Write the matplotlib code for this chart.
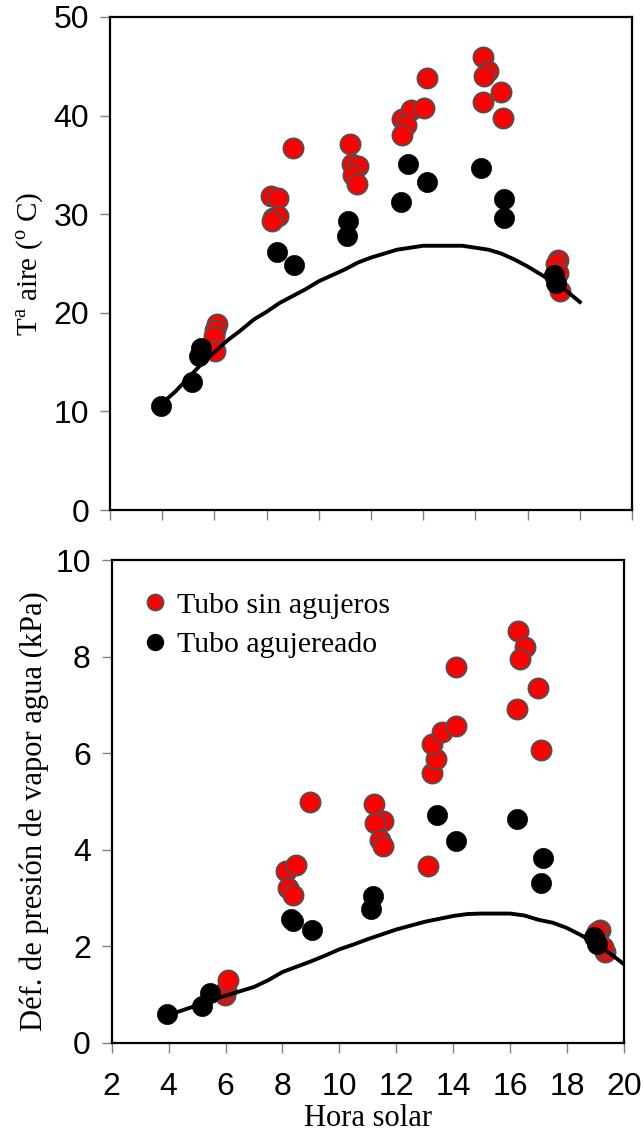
import matplotlib
matplotlib.use("Agg")
import matplotlib.pyplot as plt
from matplotlib.lines import Line2D

plt.rcParams['mathtext.fontset'] = 'custom'
plt.rcParams['mathtext.rm'] = 'Liberation Serif'

# --- Temperatura del aire ---
hora_T_sin = [6.09, 6.02, 6.00, 6.02, 8.16, 8.45, 8.26, 8.45, 8.20, 9.00,
              11.20, 11.26, 11.50, 11.30, 11.45, 13.18, 13.52, 13.34, 13.20, 14.03, 14.13,
              16.30, 16.49, 16.34, 16.97, 16.30, 17.05, 19.18, 19.10, 19.15, 19.24]
T_sin = [18.9, 18.3, 17.6, 16.1, 31.8, 31.6, 29.6, 29.8, 29.3, 36.7,
         37.1, 35.1, 34.9, 34.0, 33.1, 39.7, 40.6, 39.0, 38.0, 40.8, 43.8,
         45.9, 44.5, 44.0, 42.4, 41.4, 39.8, 25.4, 24.9, 24.0, 22.2]
hora_T_agu = [3.94, 5.15, 5.41, 5.47, 8.39, 9.06, 11.13, 11.07, 13.14, 13.43,
              14.13, 16.20, 17.10, 17.10, 19.00, 19.10]
T_agu = [10.5, 13.0, 15.6, 16.4, 26.2, 24.8, 29.3, 27.8, 31.2, 35.1,
         33.3, 34.7, 31.5, 29.6, 23.8, 23.0]

hora_ext = [3.9, 4.5, 5.0, 5.5, 6.0, 6.5, 7.0, 7.5, 8.0, 8.5, 9.0, 9.5, 10.0, 10.5,
            11.0, 11.5, 12.0, 12.5, 13.0, 13.5, 14.0, 14.5, 15.0, 15.5, 16.0, 16.5,
            17.0, 17.5, 18.0, 18.5, 19.0, 19.5, 20.0]
T_ext = [10.6, 12.0, 13.4, 14.8, 16.0, 17.2, 18.2, 19.3, 20.1, 21.0, 21.7, 22.4, 23.2, 23.8,
         24.4, 25.1, 25.6, 26.0, 26.4, 26.6, 26.8, 26.8, 26.8, 26.8, 26.6, 26.4,
         26.0, 25.4, 24.7, 23.9, 23.1, 22.2, 21.1]

# --- Deficit de presion de vapor ---
hora_D_sin = [5.98, 6.02, 6.08, 8.12, 8.48, 8.21, 8.36, 8.97, 11.22, 11.52, 11.25, 11.43, 11.52,
              13.12, 13.27, 13.40, 13.27, 13.60, 14.10, 14.10, 16.29, 16.53, 16.35, 16.99,
              16.23, 17.08, 19.17, 19.05, 19.34, 19.26]
D_sin = [0.99, 1.09, 1.31, 3.57, 3.69, 3.21, 3.07, 4.98, 4.94, 4.60, 4.56, 4.21, 4.07,
         3.66, 5.60, 5.89, 6.20, 6.43, 6.56, 7.79, 8.54, 8.20, 7.96, 7.34,
         6.92, 6.06, 2.34, 2.30, 1.88, 1.99]
hora_D_agu = [3.93, 5.18, 5.45, 8.36, 8.30, 9.05, 11.17, 11.10, 13.42, 14.10,
              16.23, 17.15, 17.08, 19.05, 18.96]
D_agu = [0.60, 0.76, 1.04, 2.52, 2.56, 2.34, 3.04, 2.78, 4.73, 4.19,
         4.64, 3.82, 3.32, 2.06, 2.20]

hora_ext_D = [4.0, 4.5, 5.0, 5.5, 6.0, 6.5, 7.0, 7.5, 8.0, 8.5, 9.0, 9.5, 10.0, 10.5,
              11.0, 11.5, 12.0, 12.5, 13.0, 13.5, 14.0, 14.5, 15.0, 15.5, 16.0, 16.5,
              17.0, 17.5, 18.0, 18.5, 19.0, 19.5, 20.0]
D_ext = [0.58, 0.68, 0.78, 0.89, 0.98, 1.07, 1.16, 1.30, 1.47, 1.58, 1.69, 1.81, 1.94, 2.04,
         2.15, 2.25, 2.35, 2.43, 2.51, 2.57, 2.63, 2.67, 2.68, 2.68, 2.68, 2.64,
         2.55, 2.49, 2.38, 2.23, 2.05, 1.86, 1.63]

serif = 'Liberation Serif'
sans = 'Liberation Sans'
ms = 210


def estilo(ax):
    for s in ax.spines.values():
        s.set_linewidth(1.6)
        s.set_color('black')
    ax.tick_params(direction='out', length=7, width=1, color='#808080',
                   labelsize=23)
    ax.tick_params(axis='y', pad=8)
    ax.tick_params(axis='x', pad=14)
    for lab in ax.get_xticklabels() + ax.get_yticklabels():
        lab.set_fontfamily(sans)


fig = plt.figure(figsize=(6.44, 11.4), dpi=100)

ax1 = fig.add_axes([110/644, 1-510/1140, 522/644, 493/1140])
ax1.scatter(hora_T_sin, T_sin, s=ms, c='#ff0000', edgecolors='#505050', linewidths=1.3, zorder=2)
ax1.scatter(hora_T_agu, T_agu, s=ms, c='black', edgecolors='black', linewidths=0.5, zorder=3)
ax1.plot(hora_ext, T_ext, color='black', lw=2.8, zorder=4)
ax1.set_xlim(2, 22)
ax1.set_ylim(0, 50)
ax1.set_xticks(range(2, 23, 2))
ax1.set_xticklabels([])
ax1.set_yticks(range(0, 51, 10))
estilo(ax1)
ax1.set_ylabel(r'T$^{\rm a}$ aire ($^{\rm o}$ C)', fontfamily=serif, fontsize=21)
ax1.yaxis.set_label_coords(-0.123, 0.5)

ax2 = fig.add_axes([111.7/644, 1-1043/1140, 512.3/644, 483/1140])
ax2.scatter(hora_D_sin, D_sin, s=ms, c='#ff0000', edgecolors='#505050', linewidths=1.3, zorder=2)
ax2.scatter(hora_D_agu, D_agu, s=ms, c='black', edgecolors='black', linewidths=0.5, zorder=3)
ax2.plot(hora_ext_D, D_ext, color='black', lw=2.8, zorder=4)
ax2.set_xlim(2, 20)
ax2.set_ylim(0, 10)
ax2.set_xticks(range(2, 21, 2))
ax2.set_yticks(range(0, 11, 2))
estilo(ax2)
ax2.set_xlabel('Hora solar', fontfamily=serif, fontsize=22)
ax2.xaxis.set_label_coords(0.5, -0.126)
ax2.set_ylabel('Déf. de presión de vapor agua (kPa)', fontfamily=serif, fontsize=22)
ax2.yaxis.set_label_coords(-0.122, 0.48)

handles = [
    Line2D([], [], ls='none', marker='o', ms=11.5, mfc='#ff0000', mec='#505050', mew=1.3),
    Line2D([], [], ls='none', marker='o', ms=11.5, mfc='black', mec='black'),
]
ax2.legend(handles, ['Tubo sin agujeros', 'Tubo agujereado'], loc='upper left',
           bbox_to_anchor=(0.008, 0.996), frameon=False, handlelength=0.6,
           handletextpad=0.45, labelspacing=0.42, borderaxespad=0.6,
           prop={'family': serif, 'size': 21.5})

fig.savefig('out.png', dpi=100)
